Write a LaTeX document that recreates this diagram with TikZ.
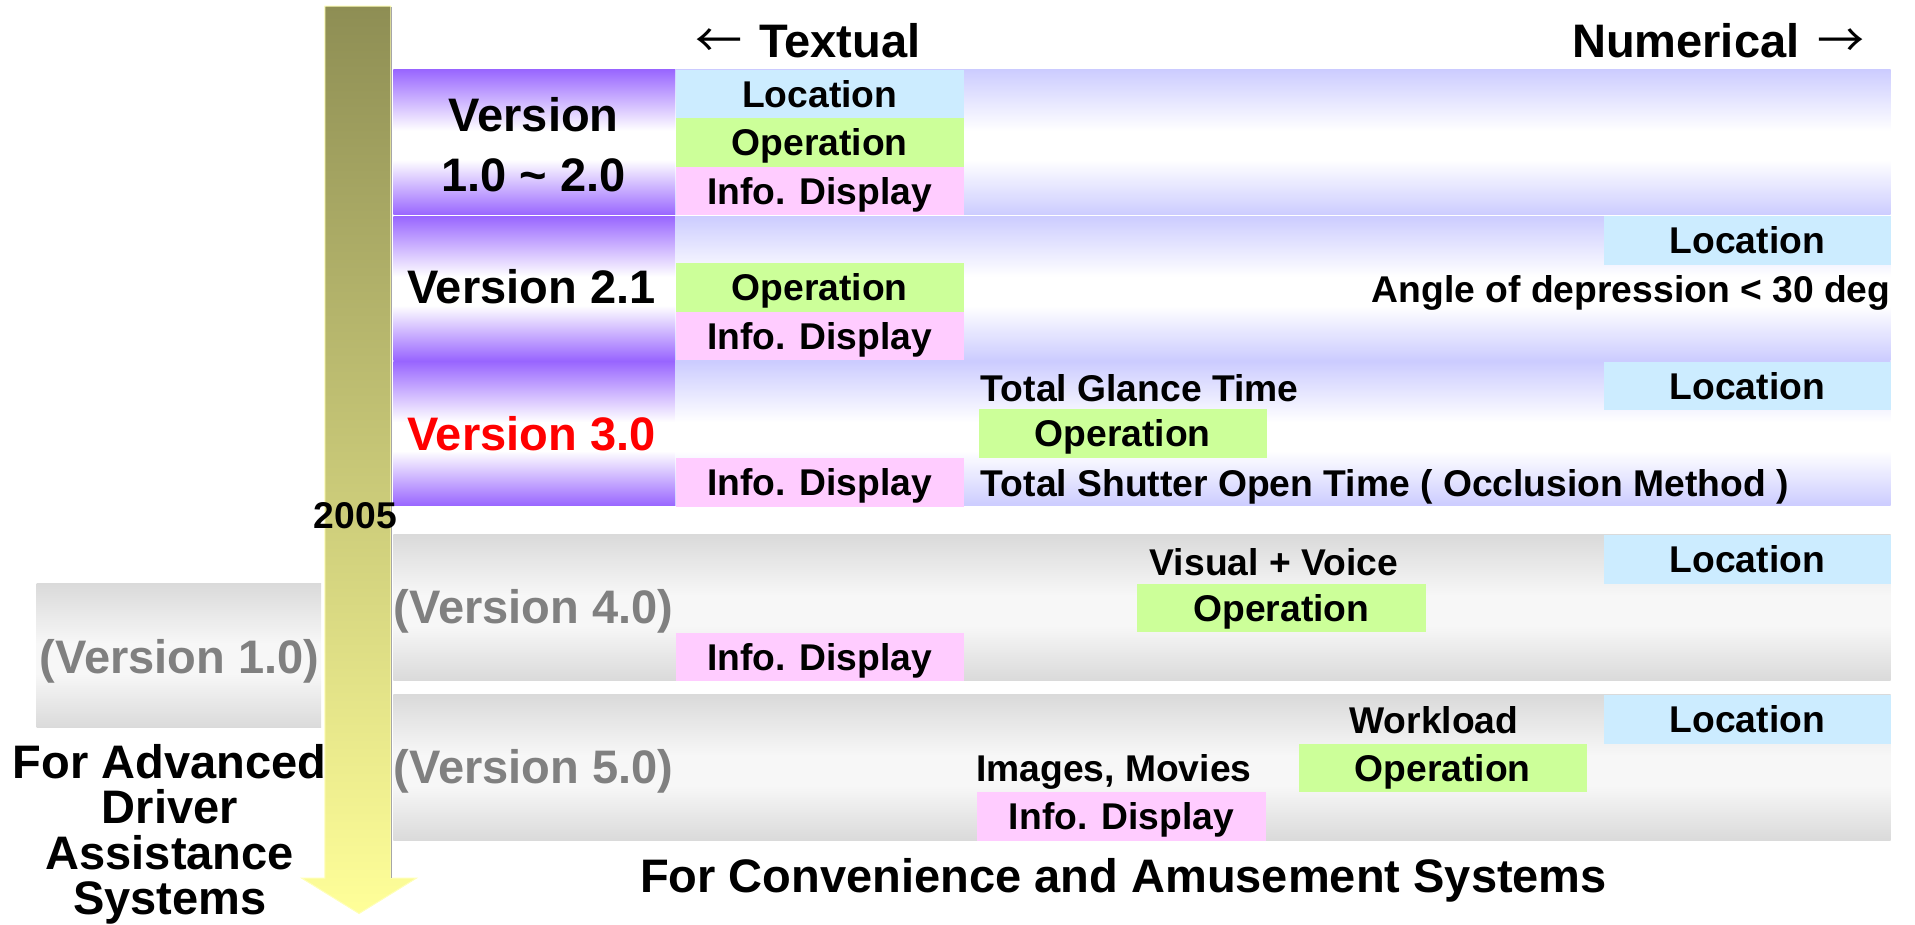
\documentclass[tikz,border=0pt]{standalone}
\usepackage{fontspec}
\setmainfont{Liberation Sans}
\newfontfamily\arrowfont{Noto Sans CJK JP}

\definecolor{vpurple}{RGB}{153,102,255}
\definecolor{vlav}{RGB}{204,204,255}
\definecolor{vgray}{RGB}{218,218,218}
\definecolor{locblue}{RGB}{204,236,255}
\definecolor{opgreen}{RGB}{204,255,153}
\definecolor{infopink}{RGB}{255,204,255}
\definecolor{arrowtop}{RGB}{142,142,84}
\definecolor{arrowbot}{RGB}{255,255,153}
\definecolor{vtext}{RGB}{128,128,128}

% bands: strong colour at top and bottom, white in the middle
\pgfdeclareverticalshading{purpleband}{100bp}{color(0bp)=(vpurple); color(25bp)=(vpurple); color(44bp)=(white); color(54bp)=(white); color(75bp)=(vpurple); color(100bp)=(vpurple)}
\pgfdeclareverticalshading{lavband}{100bp}{color(0bp)=(vlav); color(25bp)=(vlav); color(44bp)=(white); color(54bp)=(white); color(75bp)=(vlav); color(100bp)=(vlav)}
\pgfdeclareverticalshading{grayband}{100bp}{color(0bp)=(vgray); color(25bp)=(vgray); color(44bp)=(white!97!black); color(54bp)=(white!97!black); color(75bp)=(vgray); color(100bp)=(vgray)}

\begin{document}
\begin{tikzpicture}[x=1pt,y=-1pt,
  sm/.style={font=\fontsize{30.5}{30.5}\selectfont\bfseries, inner sep=0pt, text height=21.8pt, text depth=0pt},
  lg/.style={font=\fontsize{38.5}{38.5}\selectfont\bfseries, inner sep=0pt, text height=27.6pt, text depth=0pt},
  cell/.style={sm, anchor=north west, minimum width=236pt, minimum height=39.6pt},
  loc/.style={cell, fill=locblue},
  op/.style={cell, fill=opgreen},
  info/.style={cell, fill=infopink},
  ghost/.style={lg, text=vtext},
]
\useasboundingbox (0,0) rectangle (1568,757);

% time arrow
\shadedraw[top color=arrowtop, bottom color=arrowbot, draw=arrowbot!70!white, line width=0.8pt]
  (266,5) -- (320,5) -- (320,719) -- (341,719) -- (294,748) -- (247,719) -- (266,719) -- cycle;
\draw[black!35, line width=1pt] (320.5,6) -- (320.5,719);

% version bands
\foreach \t/\b in {57/176, 177/295, 296/414} {
  \shade[shading=purpleband] (322,\t) rectangle (553,\b);
  \shade[shading=lavband] (553,\t) rectangle (1548,\b);
}
\foreach \t/\b in {438/557, 569/688} {
  \shade[shading=grayband] (322,\t) rectangle (1548,\b);
}
\shade[shading=grayband] (30,478) rectangle (263,596);

% axis headings
\node[lg, anchor=west] (textual) at (569,33) {{\arrowfont\mdseries ←}\hspace{14pt}Textual};
\node[lg, anchor=west] (numerical) at (1287,33) {Numerical\hspace{15pt}{\arrowfont\mdseries →}};

% version 1.0 - 2.0
\node[font=\fontsize{38.5}{49}\selectfont\bfseries, inner sep=0pt, align=center, anchor=north] (v1) at (437,79.5) {Version\\1.0 \char"7E{} 2.0};
\node[loc] (loc1) at (553,57) {Location};
\node[op] (op1) at (553,96.7) {Operation};
\node[info] (info1) at (553,136.4) {Info. Display};

% version 2.1
\node[lg] (v21) at (435,235) {Version 2.1};
\node[loc, minimum width=235pt] (loc2) at (1313,177) {Location};
\node[sm, anchor=east] (angle) at (1548,237) {Angle of depression < 30 deg};
\node[op] (op2) at (553,215.5) {Operation};
\node[info] (info2) at (553,255) {Info. Display};

% version 3.0
\node[lg, text=red] (v30) at (435,355) {Version 3.0};
\node[loc, minimum width=235pt] (loc3) at (1313,296) {Location};
\node[sm, anchor=west] (glance) at (803,318) {Total Glance Time};
\node[op] (op3) at (801,335) {Operation};
\node[info] (info3) at (553,375) {Info. Display};
\node[sm, anchor=west] (shutter) at (803,396) {Total Shutter Open Time ( Occlusion Method )};

\node[sm] (year) at (291,422) {2005};

% version 4.0
\node[ghost] (v40) at (437,497) {(Version 4.0)};
\node[loc, minimum width=235pt] (loc4) at (1313,438) {Location};
\node[sm] (voice) at (1043,460) {Visual + Voice};
\node[op] (op4) at (931,478) {Operation};
\node[info] (info4) at (553,518) {Info. Display};

% version 5.0
\node[ghost] (v50) at (437,628) {(Version 5.0)};
\node[loc, minimum width=235pt] (loc5) at (1313,569) {Location};
\node[sm] (workload) at (1174,590) {Workload};
\node[op] (op5) at (1063,609) {Operation};
\node[sm] (images) at (912,629) {Images, Movies};
\node[info] (info5) at (800,648.5) {Info. Display};

% driver assistance branch
\node[ghost] (v10) at (147,538) {(Version 1.0)};
\node[font=\fontsize{38.5}{37.3}\selectfont\bfseries, inner sep=0pt, align=center, anchor=north] (adas) at (139,609) {For Advanced\\Driver\\Assistance\\Systems};

\node[lg] (conv) at (920,717) {For Convenience and Amusement Systems};
\end{tikzpicture}
\end{document}
